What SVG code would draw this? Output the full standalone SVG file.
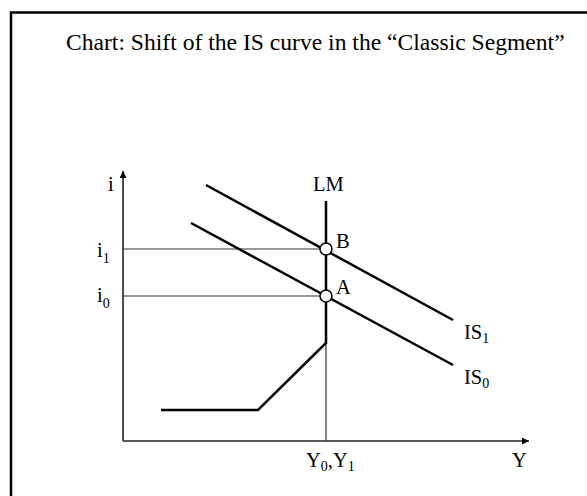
<svg xmlns="http://www.w3.org/2000/svg" width="587" height="496" viewBox="0 0 587 496">
<defs>
<style>
text{font-family:"Liberation Serif","Times New Roman",serif;fill:#000;font-size:20.5px}
.sub{font-size:14px}
.thick{stroke:#000;stroke-width:2.5;fill:none}
.thin{stroke:#333;stroke-width:1.2;fill:none}
.axis{stroke:#222;stroke-width:1.6;fill:none}
</style>
<marker id="arr" viewBox="0 0 10 10" refX="10" refY="5" markerWidth="7" markerHeight="7" markerUnits="userSpaceOnUse" orient="auto">
<path d="M0,0 L10,5 L0,10 z" fill="#000"/>
</marker>
</defs>
<rect width="587" height="496" fill="#fff"/>
<rect x="11" y="12.5" width="620" height="520" fill="none" stroke="#000" stroke-width="2.5"/>
<text id="title" x="66" y="50" style="font-size:23.6px">Chart: Shift of the IS curve in the “Classic Segment”</text>
<g id="connectors">
<line class="axis" x1="123" y1="441" x2="123" y2="171" marker-end="url(#arr)"/>
<line class="axis" x1="123" y1="441" x2="529" y2="441" marker-end="url(#arr)"/>
<line class="thin" x1="123" y1="249" x2="326" y2="249"/>
<line class="thin" x1="123" y1="296" x2="326" y2="296"/>
<line class="thin" x1="326" y1="343" x2="326" y2="441"/>
</g>
<g id="IS1"><line class="thick" x1="206" y1="185" x2="453" y2="320"/>
<text x="464" y="339">IS<tspan class="sub" dy="4">1</tspan></text></g>
<g id="IS0"><line class="thick" x1="191" y1="223" x2="453" y2="365"/>
<text x="464" y="384">IS<tspan class="sub" dy="4">0</tspan></text></g>
<g id="LM"><polyline class="thick" points="326,201 326,343 258,410 161,410"/>
<text x="313" y="191">LM</text></g>
<g id="B"><circle cx="326" cy="249" r="6" fill="#fff" stroke="#000" stroke-width="1.5"/>
<text x="336" y="248">B</text></g>
<g id="A"><circle cx="326" cy="296" r="6" fill="#fff" stroke="#000" stroke-width="1.5"/>
<text x="336" y="294">A</text></g>
<g id="labels">
<text x="108" y="191">i</text>
<text x="97" y="257">i<tspan class="sub" dy="6">1</tspan></text>
<text x="97" y="302">i<tspan class="sub" dy="6">0</tspan></text>
<text x="306" y="467">Y<tspan class="sub" dy="4">0</tspan><tspan dy="-4">,Y</tspan><tspan class="sub" dy="4">1</tspan></text>
<text x="512" y="467">Y</text>
</g>
</svg>
